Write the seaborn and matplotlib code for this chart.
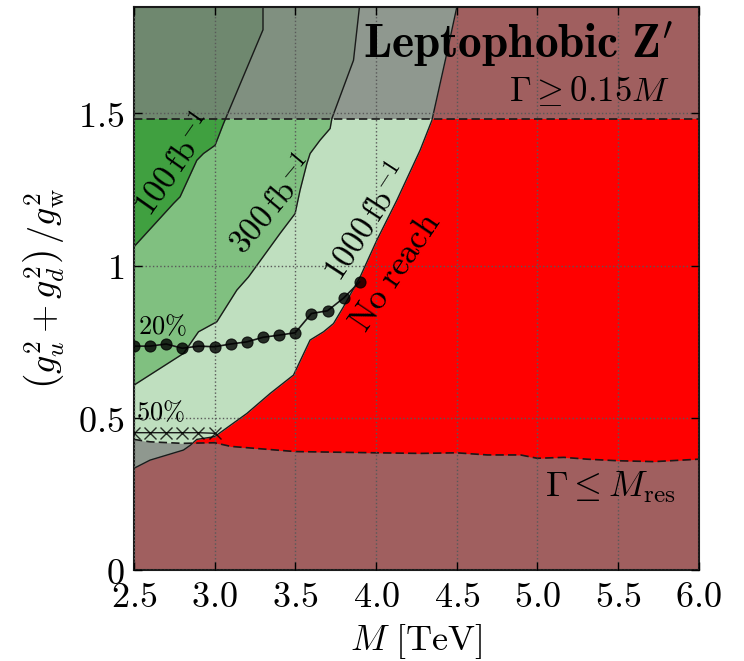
import numpy as np
import pandas as pd
import seaborn as sns
import matplotlib.pyplot as plt

# reach contours (M in TeV along each contour, coupling ratio on y)
ratio_100 = [1.062, 1.204, 1.226, 1.346, 1.368, 1.395, 1.466, 1.774, 1.85]
mass_100 = [2.50, 2.745, 2.786, 2.890, 2.931, 3.003, 3.055, 3.30, 3.30]

ratio_300 = [0.608, 0.712, 0.783, 0.816, 0.920, 0.963, 1.106, 1.171, 1.248,
             1.335, 1.368, 1.412, 1.450, 1.483, 1.674, 1.85]
mass_300 = [2.50, 2.807, 2.900, 3.014, 3.138, 3.210, 3.406, 3.499, 3.530,
            3.572, 3.592, 3.654, 3.716, 3.727, 3.861, 3.898]

# 1000 fb^-1 contour = edge of the "no reach" region
ratio_1000 = [0.0, 0.335, 0.362, 0.395, 0.411, 0.430, 0.439, 0.515, 0.581, 0.641,
              0.756, 0.783, 0.810, 0.865, 0.963, 1.084, 1.215, 1.379, 1.477, 1.674, 1.85]
mass_1000 = [2.50, 2.50, 2.60, 2.807, 2.85, 2.89, 3.00, 3.20, 3.345, 3.489,
             3.592, 3.675, 3.737, 3.799, 3.902, 4.006, 4.130, 4.274, 4.347, 4.43, 4.502]

# width limits
mass_res = [2.5, 2.6, 2.8, 3.0, 3.1, 3.5, 4.0, 4.276, 4.5, 4.69, 4.896, 5.0,
            5.165, 5.31, 5.496, 5.723, 6.0]
ratio_res = [0.430, 0.422, 0.417, 0.419, 0.407, 0.390, 0.386, 0.384, 0.386, 0.379,
             0.379, 0.368, 0.371, 0.365, 0.360, 0.357, 0.365]
ratio_wide = 1.48

# systematics lines
mass_20 = [2.5, 2.6, 2.7, 2.8, 2.9, 3.0, 3.1, 3.2, 3.3, 3.4, 3.5, 3.6, 3.7, 3.8, 3.9]
ratio_20 = [0.736, 0.736, 0.743, 0.729, 0.736, 0.734, 0.743, 0.750, 0.765, 0.772,
            0.780, 0.843, 0.852, 0.894, 0.947]
mass_50 = [2.5, 2.6, 2.7, 2.8, 2.9, 3.0]
ratio_50 = [0.452, 0.452, 0.452, 0.452, 0.452, 0.450]

x_ticks = [2.5, 3.0, 3.5, 4.0, 4.5, 5.0, 5.5, 6.0]
y_ticks = [0, 0.5, 1, 1.5]
y_labels = ['$0$', '$0.5$', '$1$', '$1.5$']

sns.set_theme(style='ticks')
plt.rcParams['mathtext.fontset'] = 'cm'
plt.rcParams['font.family'] = ['DejaVu Serif']
plt.rcParams['text.color'] = 'black'
plt.rcParams['axes.labelcolor'] = 'black'
plt.rcParams['xtick.color'] = 'black'
plt.rcParams['ytick.color'] = 'black'

light = (191/255, 223/255, 191/255)
medium = (128/255, 192/255, 128/255)
dark = (64/255, 160/255, 64/255)

fig = plt.figure(figsize=(7.44, 6.61), dpi=100)
ax = fig.add_axes([0.180, 0.137, 0.759, 0.853])
ax.set_facecolor(light)

ax.fill_betweenx(ratio_300, 2.5, mass_300, color=medium, lw=0, zorder=1)
ax.fill_betweenx(ratio_100, 2.5, mass_100, color=dark, lw=0, zorder=1)
ax.fill_betweenx(ratio_1000, mass_1000, 6.0, color='red', lw=0, zorder=1)

# excluded width regions
ax.fill_between(mass_res, 0, ratio_res, color='gray', alpha=0.75, lw=0, zorder=1.5)
ax.axhspan(ratio_wide, 1.85, color='gray', alpha=0.75, lw=0, zorder=1.5)

for m, r in [(mass_100, ratio_100), (mass_300, ratio_300), (mass_1000, ratio_1000)]:
    sns.lineplot(x=m, y=r, sort=False, estimator=None, color='k', lw=1, ax=ax, zorder=2)

sns.lineplot(x=mass_res, y=ratio_res, sort=False, estimator=None, color='k', lw=1.2,
             ax=ax, zorder=2)
ax.lines[-1].set_dashes((5, 2.5))
ax.axhline(ratio_wide, color='k', lw=1.2, dashes=(5, 2.5), zorder=2)

sns.lineplot(x=mass_20, y=ratio_20, sort=False, estimator=None, color='k', lw=1.2,
             marker='o', markersize=8, markerfacecolor=(0, 0, 0, 0.8),
             markeredgecolor=(0, 0, 0, 0.8), ax=ax, zorder=3)
sns.lineplot(x=mass_50, y=ratio_50, sort=False, estimator=None, color='k', lw=1,
             marker='x', markersize=9, markeredgewidth=1, markeredgecolor=(0, 0, 0, 0.8),
             ax=ax, zorder=3)

ax.set_xlim(2.5, 6.0)
ax.set_ylim(0, 1.85)
ax.set_xticks(x_ticks)
ax.set_xticklabels([f'${t:.1f}$' for t in x_ticks])
ax.set_yticks(y_ticks)
ax.set_yticklabels(y_labels)
ax.tick_params(direction='in', length=6, width=1, top=True, right=True,
               labelsize=26, pad=7)
ax.set_axisbelow(False)
ax.grid(True, color='0.35', ls=':', lw=1)
for s in ax.spines.values():
    s.set_linewidth(1.5)
    s.set_color('k')

ax.set_xlabel(r'$M\ [\mathrm{TeV}]$', fontsize=26)
ax.set_ylabel(r'$\left(g_u^2+g_d^2\right)\,/g_{\rm w}^2$', fontsize=26)
ax.xaxis.set_label_coords(0.5, -0.092)
ax.yaxis.set_label_coords(-0.118, 0.5)

ax.text(5.842, 1.683, r'$\mathbf{Leptophobic\ Z^{\prime}}$', fontsize=34,
        ha='right', va='baseline')
ax.text(5.824, 1.539, r'$\Gamma \geq 0.15M$', fontsize=25, ha='right', va='baseline')
ax.text(5.855, 0.242, r'$\Gamma \leq M_{\rm res}$', fontsize=26, ha='right', va='baseline')

ax.text(2.755, 1.330, r'$100\,\mathrm{fb}^{-1}$', fontsize=24, rotation=55,
        ha='center', va='center', rotation_mode='anchor')
ax.text(3.356, 1.198, r'$300\,\mathrm{fb}^{-1}$', fontsize=24, rotation=50,
        ha='center', va='center', rotation_mode='anchor')
ax.text(3.95, 1.143, r'$1000\,\mathrm{fb}^{-1}$', fontsize=24, rotation=57,
        ha='center', va='center', rotation_mode='anchor')
ax.text(4.119, 0.979, r'$\mathrm{No\ reach}$', fontsize=25, rotation=56,
        ha='center', va='center', rotation_mode='anchor')
ax.text(2.675, 0.802, r'$20\%$', fontsize=19, ha='center', va='center')
ax.text(2.662, 0.520, r'$50\%$', fontsize=19, ha='center', va='center')

fig.savefig('out.png', dpi=100)
